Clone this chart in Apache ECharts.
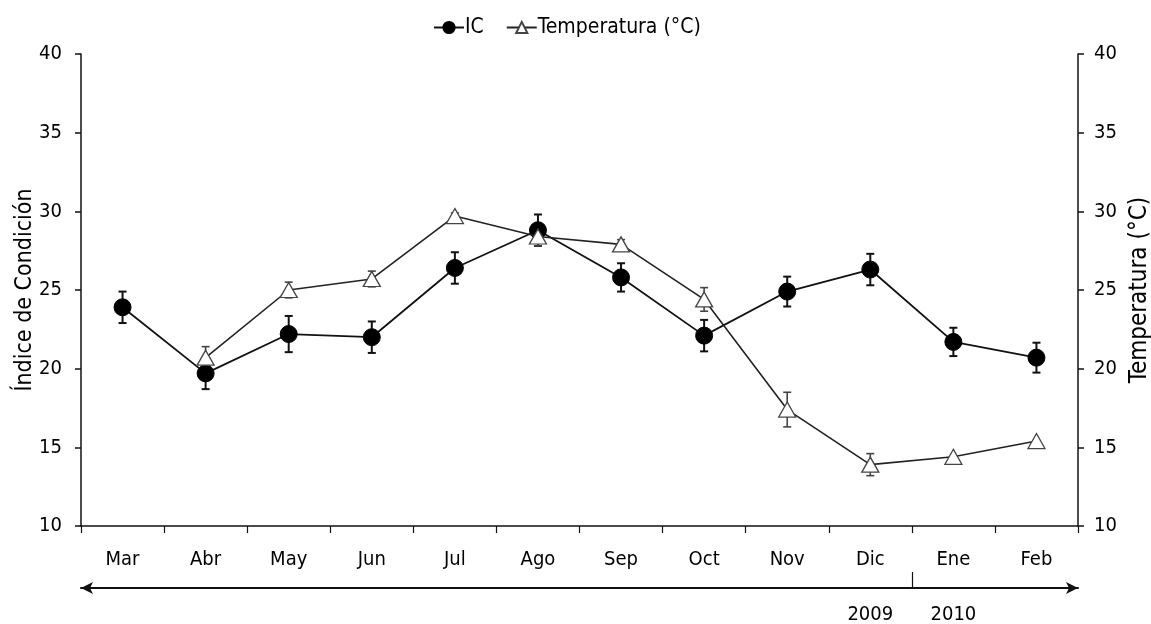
<!DOCTYPE html>
<html>
<head>
<meta charset="utf-8">
<script src="https://cdn.jsdelivr.net/npm/echarts@6/dist/echarts.min.js"></script>
<style>
html,body{margin:0;padding:0;background:#fff;}
#chart{width:1151px;height:624px;}
</style>
</head>
<body>
<div id="chart"></div>
<script>
const categories = ['Mar','Abr','May','Jun','Jul','Ago','Sep','Oct','Nov','Dic','Ene','Feb'];
const icValues   = [23.9, 19.7, 22.2, 22.0, 26.4, 28.8, 25.8, 22.1, 24.9, 26.3, 21.7, 20.7];
const icErrors   = [1.0, 1.0, 1.15, 1.0, 1.0, 1.0, 0.9, 1.0, 0.95, 1.0, 0.9, 0.95];
const tempValues = [null, 20.7, 25.0, 25.7, 29.7, 28.4, 27.9, 24.4, 17.4, 13.9, 14.4, 15.4];
const tempErrors = [null, 0.7, 0.5, 0.5, 0.2, 0.6, 0.3, 0.75, 1.1, 0.7, 0, 0];
const yearLabels = ['2009', '2010'];
const yearLabelPositions = [9.5, 10.5];   // centres of Dic and Ene
const yearBoundary = 10;                   // boundary between Dic and Ene
const axisMin = 10, axisMax = 40, axisInterval = 5;

const FONT = 'DejaVu Sans Condensed';
const chart = echarts.init(document.getElementById('chart'), null, {renderer: 'canvas'});

function errData(vals, errs) {
  const out = [];
  vals.forEach((v, i) => { if (v != null && errs[i] > 0) out.push([i, v, errs[i]]); });
  return out;
}
function errRender(color, width, cap) {
  return function (params, api) {
    const x = api.value(0), v = api.value(1), e = api.value(2);
    const top = api.coord([x, v + e]);
    const bot = api.coord([x, v - e]);
    const st = {stroke: color, lineWidth: width};
    return {
      type: 'group',
      children: [
        {type: 'line', shape: {x1: top[0], y1: top[1], x2: bot[0], y2: bot[1]}, style: st},
        {type: 'line', shape: {x1: top[0] - cap, y1: top[1], x2: top[0] + cap, y2: top[1]}, style: st},
        {type: 'line', shape: {x1: bot[0] - cap, y1: bot[1], x2: bot[0] + cap, y2: bot[1]}, style: st}
      ]
    };
  };
}

const yAxisCommon = {
  type: 'value', min: axisMin, max: axisMax, interval: axisInterval,
  splitLine: {show: false},
  axisLine: {show: true, lineStyle: {color: '#111', width: 1.5}},
  axisTick: {show: true, length: 6, lineStyle: {color: '#111', width: 1.5}},
  nameLocation: 'middle',
  nameMoveOverlap: false
};

const option = {
  backgroundColor: '#fff',
  animation: false,
  grid: {left: 81, right: 73, top: 54, bottom: 98, containLabel: false, outerBoundsMode: 'none'},
  legend: {
    top: 12, left: 428,
    data: ['IC', 'Temperatura (°C)'],
    itemWidth: 30, itemHeight: 14, itemGap: 22,
    textStyle: {color: '#000', fontFamily: FONT, fontSize: 21, padding: [0, 0, 0, -4]}
  },
  xAxis: [
    {
      type: 'category', data: categories, boundaryGap: true, position: 'bottom',
      axisLine: {show: true, onZero: false, lineStyle: {color: '#111', width: 1.5}},
      axisTick: {show: true, length: 7, inside: false, lineStyle: {color: '#111', width: 1.2}},
      axisLabel: {color: '#000', fontFamily: FONT, fontSize: 20, margin: 24}
    },
    {
      type: 'value', min: 0, max: categories.length, position: 'bottom', offset: 62,
      splitLine: {show: false},
      axisLine: {show: true, onZero: false, symbol: ['arrow', 'arrow'], symbolSize: [9, 12],
                 lineStyle: {color: '#111', width: 2}},
      axisTick: {show: true, inside: true, length: 16, customValues: [yearBoundary],
                 lineStyle: {color: '#111', width: 1.2}},
      axisLabel: {show: true, color: '#000', fontFamily: FONT, fontSize: 20, margin: 17,
                  customValues: yearLabelPositions,
                  formatter: function (val) {
                    const i = yearLabelPositions.indexOf(val);
                    return i >= 0 ? yearLabels[i] : '';
                  }}
    }
  ],
  yAxis: [
    Object.assign({}, yAxisCommon, {
      position: 'left', name: 'Índice de Condición', nameGap: 44,
      axisLabel: {color: '#000', fontFamily: FONT, fontSize: 20, margin: 19},
      nameTextStyle: {color: '#000', fontFamily: FONT, fontSize: 23}
    }),
    Object.assign({}, yAxisCommon, {
      position: 'right', name: 'Temperatura (°C)', nameGap: 50, nameRotate: 90,
      axisLabel: {color: '#000', fontFamily: FONT, fontSize: 20, margin: 16},
      nameTextStyle: {color: '#000', fontFamily: FONT, fontSize: 24}
    })
  ],
  series: [
    {
      type: 'custom', name: 'icErr', xAxisIndex: 0, yAxisIndex: 0, z: 1,
      renderItem: errRender('#111', 2, 4), data: errData(icValues, icErrors),
      encode: {x: 0, y: 1}, silent: true
    },
    {
      type: 'custom', name: 'tempErr', xAxisIndex: 0, yAxisIndex: 1, z: 1,
      renderItem: errRender('#444', 1.6, 4), data: errData(tempValues, tempErrors),
      encode: {x: 0, y: 1}, silent: true
    },
    {
      type: 'line', name: 'IC', xAxisIndex: 0, yAxisIndex: 0, z: 3,
      data: icValues, symbol: 'circle', symbolSize: 17,
      lineStyle: {color: '#111', width: 1.8},
      itemStyle: {color: '#000', borderColor: '#000', borderWidth: 1}
    },
    {
      type: 'line', name: 'Temperatura (°C)', xAxisIndex: 0, yAxisIndex: 1, z: 4,
      data: tempValues, symbol: 'triangle', symbolSize: [17, 15], connectNulls: false,
      lineStyle: {color: '#222', width: 1.6},
      itemStyle: {color: '#fff', borderColor: '#444', borderWidth: 1.3}
    }
  ]
};
chart.setOption(option);
</script>
</body>
</html>
